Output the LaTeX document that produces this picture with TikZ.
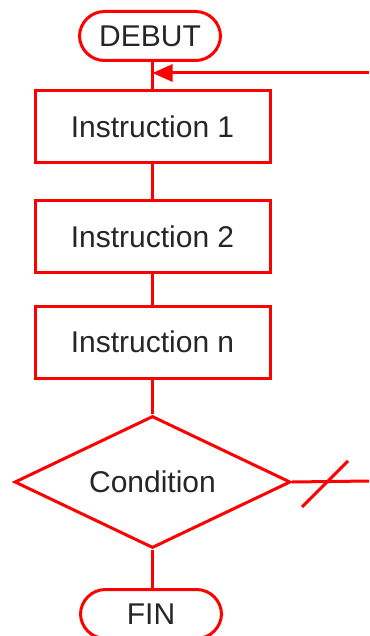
\documentclass[tikz,border=0pt]{standalone}
\usepackage{fontspec}
\setmainfont{Liberation Sans}
\usetikzlibrary{calc,arrows.meta,shapes.geometric}
\tikzset{
  flow/.style={draw=red, line width=1.5pt},
  startstop/.style={flow, rectangle, rounded corners=12.5pt, minimum width=70.5pt, minimum height=24.5pt, inner sep=0pt, font=\fontsize{15}{18}\selectfont, text=black!85},
  instrbox/.style={flow, rectangle, minimum width=117.5pt, minimum height=36pt, inner sep=0pt, font=\fontsize{15}{18}\selectfont, text=black!85},
  testbox/.style={flow, diamond, aspect=2, minimum width=138pt, minimum height=66pt, inner sep=0pt, font=\fontsize{15}{18}\selectfont, text=black!85},
}
\begin{document}
\begin{tikzpicture}[x=0.5pt, y=-0.5pt]
			%%%%% START %%%%%
			\useasboundingbox (0, 0) rectangle (369, 636);
			
			\node[startstop] (debut) at (150, 36) {DEBUT};
			\node[instrbox] (instr1) at (152.5, 126.5) {Instruction 1};
			\node[instrbox] (instr2) at (152.5, 236.5) {Instruction 2};
			\node[instrbox] (instrn) at (152.5, 342) {Instruction n};
			\node[testbox] (cond) at (152.5, 482) {Condition};
			\node[startstop] (fin) at (151, 614) {FIN};
			
			\coordinate (retour) at (369, 73);
			\coordinate (sortie) at (369, 481);
			
			\draw[flow] (instr1.north) -- (instr1.north |- debut.south);
			\draw[flow] (instr1) -- (instr2);
			\draw[flow] (instr2) -- (instrn);
			\draw[flow] (instrn) -- (cond);
			\draw[flow] (cond.south) -- (cond.south |- fin.north);
			
			\draw[flow, -{Triangle[length=10pt, width=8.5pt]}] (retour) -- (retour -| instr1.north);
			\draw[flow] (cond.east) -- (sortie);
			\draw[flow] ($(cond.east)+(10, 25)$) -- ($(cond.east)+(56, -21)$);
			
			%%%%% END %%%%%
\end{tikzpicture}
\end{document}
